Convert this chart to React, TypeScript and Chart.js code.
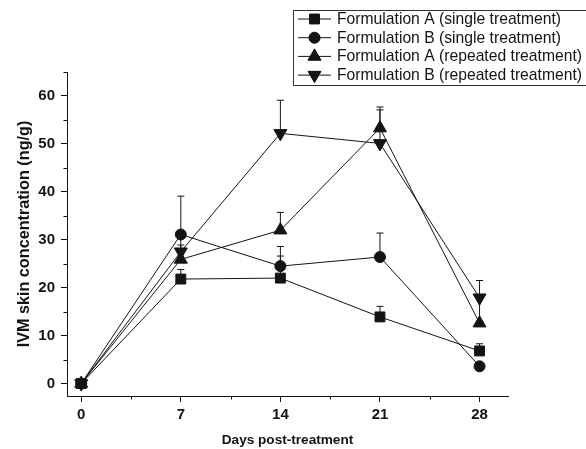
import React, { useEffect, useRef } from 'react';
import { Chart, registerables } from 'chart.js';
import { drawPoint } from 'chart.js/helpers';

Chart.register(...registerables);

const days = [0, 7, 14, 21, 28];
const xTickLabels = ['0', '7', '14', '21', '28'];
const yTickValues = [0, 10, 20, 30, 40, 50, 60];
const xMinorTicks = [3.5, 10.5, 17.5, 24.5];
const yMinorTicks = [5, 15, 25, 35, 45, 55, 65];

const seriesLabels = [
  'Formulation A (single treatment)',
  'Formulation B (single treatment)',
  'Formulation A (repeated treatment)',
  'Formulation B (repeated treatment)',
];

const aSingle = [0, 21.8, 22.0, 13.9, 6.8];
const aSingleErr = [0, 2, 4.6, 2.2, 1.5];
const bSingle = [0, 31.1, 24.5, 26.4, 3.6];
const bSingleErr = [0, 8, 4.1, 5.0, 0];
const aRepeated = [0, 25.9, 32.0, 53.3, 12.6];
const aRepeatedErr = [0, 3, 3.7, 4.4, 5];
const bRepeated = [0, 27.5, 52.2, 50.1, 17.9];
const bRepeatedErr = [0, 3, 6.9, 7.0, 3.6];

const FONT = "'Liberation Sans', Arial, sans-serif";
const INK = '#141414';

const pointStyles = ['rect', 'circle', 'triangle', 'triangle'];
const pointRadii = [7, 5.5, 7.5, 7.5];
const pointRotations = [0, 0, 0, 180];

export default function App() {
  const ref = useRef<HTMLCanvasElement | null>(null);

  useEffect(() => {
    document.body.style.margin = '0';
    const canvas = ref.current;
    if (!canvas) return;

    const values = [aSingle, bSingle, aRepeated, bRepeated];
    const errors = [aSingleErr, bSingleErr, aRepeatedErr, bRepeatedErr];

    const errorBars = {
      id: 'errorBars',
      beforeDatasetsDraw(chart: any) {
        const { ctx } = chart;
        const xs = chart.scales.x;
        const ys = chart.scales.y;
        ctx.save();
        ctx.strokeStyle = INK;
        ctx.lineWidth = 1;
        values.forEach((series, si) => {
          series.forEach((v, i) => {
            const e = errors[si][i];
            if (!e) return;
            const px = xs.getPixelForValue(days[i]);
            const py0 = ys.getPixelForValue(v);
            const py1 = ys.getPixelForValue(v + e);
            ctx.beginPath();
            ctx.moveTo(px, py0);
            ctx.lineTo(px, py1);
            ctx.moveTo(px - 3.5, py1);
            ctx.lineTo(px + 3.5, py1);
            ctx.stroke();
          });
        });
        ctx.restore();
      },
    };

    const minorTicks = {
      id: 'minorTicks',
      afterDraw(chart: any) {
        const { ctx, chartArea } = chart;
        const xs = chart.scales.x;
        const ys = chart.scales.y;
        ctx.save();
        ctx.strokeStyle = INK;
        ctx.lineWidth = 1;
        ctx.beginPath();
        xMinorTicks.forEach((v) => {
          const px = Math.round(xs.getPixelForValue(v)) + 0.5;
          ctx.moveTo(px, chartArea.bottom);
          ctx.lineTo(px, chartArea.bottom + 3.5);
        });
        yMinorTicks.forEach((v) => {
          const py = Math.round(ys.getPixelForValue(v)) + 0.5;
          ctx.moveTo(chartArea.left, py);
          ctx.lineTo(chartArea.left - 3.5, py);
        });
        ctx.stroke();
        ctx.restore();
      },
    };

    const boxLegend = {
      id: 'boxLegend',
      afterDraw(chart: any) {
        const { ctx } = chart;
        const left = 293.5;
        const top = 10.5;
        const right = 590;
        const bottom = 85.5;
        const rowH = 18.7;
        ctx.save();
        ctx.strokeStyle = '#333';
        ctx.lineWidth = 1;
        ctx.strokeRect(left, top, right - left, bottom - top);
        ctx.font = `15.7px ${FONT}`;
        ctx.fillStyle = INK;
        ctx.textBaseline = 'middle';
        ctx.textAlign = 'left';
        seriesLabels.forEach((label, i) => {
          const cy = 19 + i * rowH;
          ctx.strokeStyle = INK;
          ctx.beginPath();
          ctx.moveTo(298, cy);
          ctx.lineTo(331, cy);
          ctx.stroke();
          ctx.fillStyle = INK;
          drawPoint(ctx, {
            pointStyle: pointStyles[i] as any,
            radius: pointRadii[i],
            rotation: pointRotations[i],
            borderWidth: 1,
          } as any, 314.5, cy);
          ctx.fill();
          ctx.fillText(label, 337, cy + 0.5);
        });
        ctx.restore();
      },
    };

    const datasets = values.map((series, i) => ({
      label: seriesLabels[i],
      data: series.map((v, j) => ({ x: days[j], y: v })),
      borderColor: INK,
      backgroundColor: INK,
      borderWidth: 1,
      pointStyle: pointStyles[i] as any,
      pointRadius: pointRadii[i],
      pointRotation: pointRotations[i],
      pointBackgroundColor: INK,
      pointBorderColor: INK,
      pointBorderWidth: 1,
      tension: 0,
      fill: false,
    }));

    const chart = new Chart(canvas, {
      type: 'line',
      data: { datasets },
      options: {
        animation: false,
        responsive: false,
        maintainAspectRatio: false,
        layout: { padding: { top: 72, right: 78, left: 0, bottom: 0 } },
        plugins: {
          legend: { display: false },
          tooltip: { enabled: false },
        },
        scales: {
          x: {
            type: 'linear',
            min: -1,
            max: 30,
            afterBuildTicks: (s: any) => {
              s.ticks = days.map((v) => ({ value: v }));
            },
            afterFit: (s: any) => {
              s.height = 53;
            },
            ticks: {
              callback: (_v: any, idx: number) => xTickLabels[idx],
              font: { family: FONT, size: 15, weight: 'bold' },
              color: INK,
              padding: 4,
              maxRotation: 0,
              autoSkip: false,
            },
            grid: {
              display: true,
              drawOnChartArea: false,
              drawTicks: true,
              tickLength: 6,
              color: INK,
            },
            border: { display: true, color: INK, width: 1 },
            title: {
              display: true,
              text: 'Days post-treatment',
              font: { family: FONT, size: 13.6, weight: 'bold' },
              color: INK,
              padding: { top: 0, bottom: 1 },
            },
          },
          y: {
            type: 'linear',
            min: -2.6,
            max: 65,
            afterBuildTicks: (s: any) => {
              s.ticks = yTickValues.map((v) => ({ value: v }));
            },
            afterFit: (s: any) => {
              s.width = 67;
            },
            ticks: {
              callback: (v: any) => String(v),
              font: { family: FONT, size: 15, weight: 'bold' },
              color: INK,
              padding: 6,
              autoSkip: false,
            },
            grid: {
              display: true,
              drawOnChartArea: false,
              drawTicks: true,
              tickLength: 6,
              color: INK,
            },
            border: { display: true, color: INK, width: 1 },
            title: {
              display: true,
              text: 'IVM skin concentration (ng/g)',
              font: { family: FONT, size: 16.2, weight: 'bold' },
              color: INK,
              padding: { top: 15, bottom: 0 },
            },
          },
        },
      },
      plugins: [errorBars, minorTicks, boxLegend],
    });

    return () => chart.destroy();
  }, []);

  return (
    <div style={{ width: 586, height: 449, background: '#fff' }}>
      <canvas ref={ref} width={586} height={449} style={{ display: 'block', width: 586, height: 449 }} />
    </div>
  );
}
